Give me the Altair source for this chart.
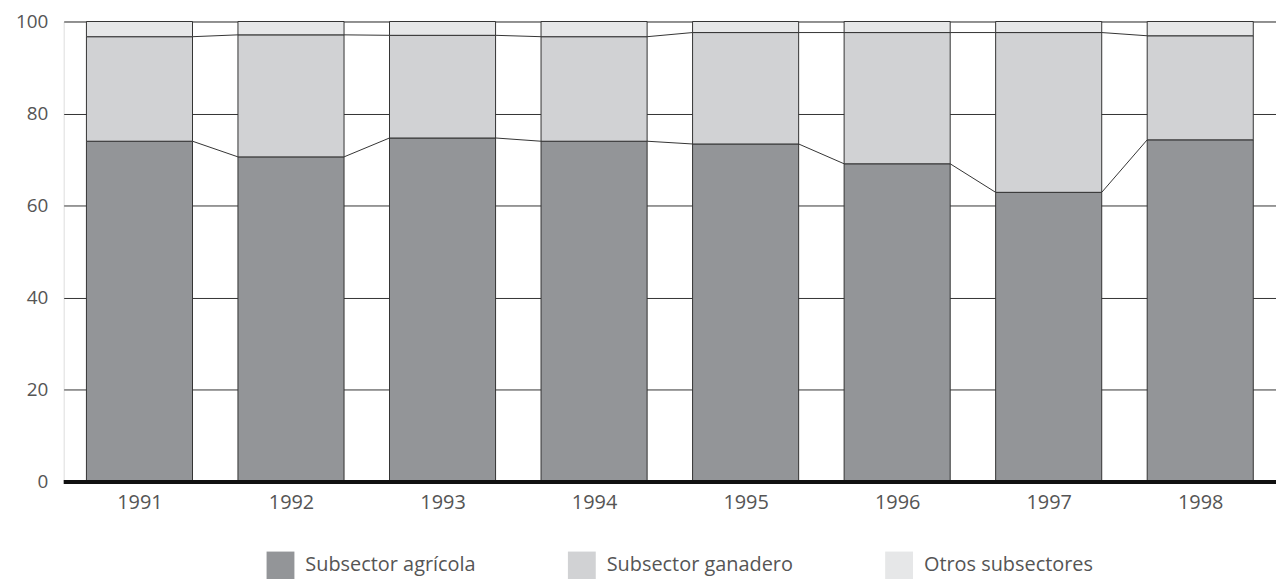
import altair as alt
import pandas as pd

years = [1991, 1992, 1993, 1994, 1995, 1996, 1997, 1998]
agricola = [74.0, 70.6, 74.7, 74.0, 73.4, 69.1, 62.9, 74.3]
ganadero = [22.7, 26.5, 22.3, 22.7, 24.2, 28.5, 34.7, 22.6]
otros = [3.3, 2.9, 3.0, 3.3, 2.4, 2.4, 2.4, 3.1]
series = ["Subsector agrícola", "Subsector ganadero", "Otros subsectores"]
colors = ["#939598", "#d1d2d4", "#e6e7e8"]
y_ticks = [0, 20, 40, 60, 80, 100]

HALF = 0.35
FONT = "Open Sans"
TXT = "#555555"

rows = []
for i, yr in enumerate(years):
    for k, vals in enumerate([agricola, ganadero, otros]):
        rows.append({"year": yr, "serie": series[k], "order": k, "value": vals[i]})
df = pd.DataFrame(rows)

# connector segments between adjacent bars at stack boundaries
cum1 = agricola
cum2 = [a + g for a, g in zip(agricola, ganadero)]
seg_rows = []
sid = 0
for cum in (cum1, cum2):
    for i in range(len(years) - 1):
        seg_rows.append({"seg": sid, "x": years[i] + HALF, "v": cum[i]})
        seg_rows.append({"seg": sid, "x": years[i + 1] - HALF, "v": cum[i + 1]})
        sid += 1
seg = pd.DataFrame(seg_rows)

xscale = alt.Scale(domain=[years[0] - 0.5, years[-1] + 0.5], nice=False, zero=False)
yscale = alt.Scale(domain=[0, 100], nice=False)

bars = alt.Chart(df).transform_stack(
    stack="value", groupby=["year"], as_=["y0", "y1"], sort=[alt.SortField("order")]
).transform_calculate(
    x0=f"datum.year - {HALF}", x1=f"datum.year + {HALF}"
).mark_bar(stroke="#333333", strokeWidth=1).encode(
    x=alt.X("x0:Q", scale=xscale, title=None,
            axis=alt.Axis(values=years, format="d", ticks=False, domain=False, grid=False,
                          labelFontSize=20, labelColor=TXT, labelFont=FONT, labelPadding=11)),
    x2="x1:Q",
    y=alt.Y("y0:Q", scale=yscale, title=None,
            axis=alt.Axis(values=y_ticks, ticks=False, domain=False, grid=True,
                          gridColor="#333333", gridWidth=1, gridOpacity=1,
                          labelFontSize=19, labelColor=TXT, labelFont=FONT, labelPadding=16)),
    y2="y1:Q",
    color=alt.Color("serie:N", scale=alt.Scale(domain=series, range=colors), sort=series,
                    legend=alt.Legend(orient="none", legendX=204, legendY=533, direction="horizontal",
                                      title=None, symbolType="square", symbolSize=784,
                                      symbolStrokeWidth=0, symbolOpacity=1, labelLimit=0,
                                      labelFontSize=20, labelFont=FONT, labelColor=TXT,
                                      labelOffset=11, columnPadding=92)),
    order=alt.Order("order:Q"),
)

lines = alt.Chart(seg).mark_line(color="#333333", strokeWidth=1).encode(
    x=alt.X("x:Q", scale=xscale),
    y=alt.Y("v:Q", scale=yscale),
    detail="seg:N",
)

base = alt.Chart(pd.DataFrame({"v": [0]})).mark_rule(color="#111111", strokeWidth=4).encode(
    y=alt.Y("v:Q", scale=yscale)
)

chart = alt.layer(bars, lines, base).properties(
    width=1219, height=463,
    autosize=alt.AutoSizeParams(type="none"),
    padding={"left": 56, "top": 12, "right": 0, "bottom": 96},
).configure_view(stroke=None).configure(background="white")

chart.save("out.html", embed_options={"renderer": "svg", "actions": False})
